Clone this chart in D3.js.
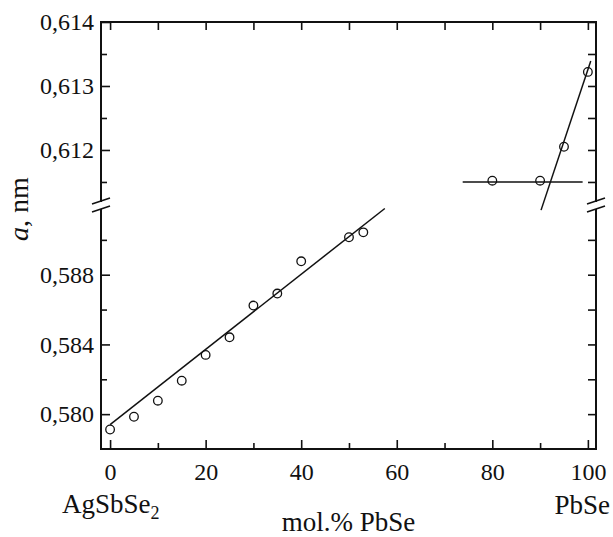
<!DOCTYPE html>
<html>
<head>
<meta charset="utf-8">
<script src="https://cdn.jsdelivr.net/npm/d3@7"></script>
<style>
	body { margin: 0; background: #fff; }
	text { font-family: "Liberation Serif", "Times New Roman", serif; fill: #111; }
</style>
</head>
<body>
<div class="chart"></div>
<script>

// measured points, mol.% PbSe vs lattice parameter a (nm)
const molLow = [0, 5, 10, 15, 20, 25, 30, 35, 40, 50, 53];
const aLow = [0.57912, 0.57985, 0.58077, 0.58192, 0.58340, 0.58441, 0.58623, 0.58692, 0.58877, 0.59015, 0.59043];
const molHigh = [80, 90, 95, 100];
const aHigh = [0.61152, 0.61152, 0.61205, 0.61322];

// fitted lines (end points)
const fitLow = [[0, 0.5794], [57.5, 0.5918]];
const fitFlat = [[73.8, 0.6115], [98.9, 0.6115]];
const fitSteep = [[90.2, 0.61106], [100.6, 0.61339]];

const xMajor = [0, 20, 40, 60, 80, 100];
const xMinor = [10, 30, 50, 70, 90];
const yLowMajor = [0.580, 0.584, 0.588];
const yLowMinor = [0.582, 0.586, 0.590];
const yHighMajor = [0.612, 0.613, 0.614];
const yHighMinor = [0.6115, 0.6125, 0.6135];

const W = 613, H = 537;
const margin = ({top: 22, right: 17, bottom: 88, left: 101});
const width = W - margin.left - margin.right;
const height = H - margin.top - margin.bottom;
const breakY = 183; // where the axis is cut, inside the plot

const svg = d3.select('.chart')
	.append('svg')
	.attr('width', W)
	.attr('height', H);

const g = svg.append('g')
	.attr('transform', 'translate(' + margin.left + ',' + margin.top + ')');

const x = d3.scaleLinear().domain([-1.9, 101.7]).range([0, width]);
const yLow = d3.scaleLinear().domain([0.578, 0.592]).range([height, breakY]);
const yHigh = d3.scaleLinear().domain([0.61114, 0.614]).range([breakY, 0]);

const comma = d3.formatLocale({decimal: ',', thousands: ' ', grouping: [3], currency: ['', '']});
const fmt = comma.format('.3f');

function styleAxis(sel) {
	sel.select('.domain').remove();
	sel.selectAll('line').attr('stroke', '#111').attr('stroke-width', 1.6);
	sel.selectAll('text').style('font-size', '24px').attr('fill', '#111');
}

// bottom axis, ticks pointing inwards
g.append('g').attr('transform', 'translate(0,' + height + ')')
	.call(d3.axisBottom(x).tickValues(xMajor).tickSize(-9).tickPadding(14).tickFormat(d3.format('d')))
	.call(styleAxis);
g.append('g').attr('transform', 'translate(0,' + height + ')')
	.call(d3.axisBottom(x).tickValues(xMinor).tickSize(-6).tickFormat(''))
	.call(styleAxis);
// top
g.append('g')
	.call(d3.axisTop(x).tickValues(xMajor.concat(xMinor)).tickSize(-8).tickFormat(''))
	.call(styleAxis);

// left axis, two pieces
[[yLow, yLowMajor, yLowMinor], [yHigh, yHighMajor, yHighMinor]].forEach(([y, major, minor]) => {
	g.append('g')
		.call(d3.axisLeft(y).tickValues(major).tickSize(-9).tickPadding(7).tickFormat(fmt))
		.call(styleAxis);
	g.append('g')
		.call(d3.axisLeft(y).tickValues(minor).tickSize(-6).tickFormat(''))
		.call(styleAxis);
	g.append('g').attr('transform', 'translate(' + width + ',0)')
		.call(d3.axisRight(y).tickValues(major.concat(minor)).tickSize(-8).tickFormat(''))
		.call(styleAxis);
});

// frame
g.append('rect')
	.attr('width', width)
	.attr('height', height)
	.attr('fill', 'none')
	.attr('stroke', '#111')
	.attr('stroke-width', 2);

const lineGenerator = d3.line();

g.append('path')
	.attr('d', lineGenerator(fitLow.map(d => [x(d[0]), yLow(d[1])])))
	.attr('stroke', '#111').attr('stroke-width', 1.5).attr('fill', 'none');
[fitFlat, fitSteep].forEach(f => {
	g.append('path')
		.attr('d', lineGenerator(f.map(d => [x(d[0]), yHigh(d[1])])))
		.attr('stroke', '#111').attr('stroke-width', 1.5).attr('fill', 'none');
});

// open circles
g.selectAll('circle.low')
	.data(molLow)
	.enter()
	.append('circle')
	.attr('class', 'low')
	.attr('cx', d => x(d))
	.attr('cy', (d, i) => yLow(aLow[i]))
	.attr('r', 4.3)
	.attr('fill', 'none')
	.attr('stroke', '#111')
	.attr('stroke-width', 1.3);

g.selectAll('circle.high')
	.data(molHigh)
	.enter()
	.append('circle')
	.attr('class', 'high')
	.attr('cx', d => x(d))
	.attr('cy', (d, i) => yHigh(aHigh[i]))
	.attr('r', 4.3)
	.attr('fill', 'none')
	.attr('stroke', '#111')
	.attr('stroke-width', 1.3);

// axis break marks on both sides
[0, width].forEach(bx => {
	g.append('rect')
		.attr('x', bx - 2).attr('y', breakY - 3)
		.attr('width', 4).attr('height', 7)
		.attr('fill', '#fff');
	[-4, 4].forEach(off => {
		g.append('line')
			.attr('x1', bx - 9).attr('y1', breakY + off + 3)
			.attr('x2', bx + 9).attr('y2', breakY + off - 3)
			.attr('stroke', '#111')
			.attr('stroke-width', 1.6);
	});
});

// titles
svg.append('text')
	.attr('transform', 'translate(28,' + (margin.top + 187) + ') rotate(-90)')
	.attr('text-anchor', 'middle')
	.style('font-size', '28px')
	.html('<tspan font-style="italic">a</tspan>, nm');

svg.append('text')
	.attr('x', 62).attr('y', 513)
	.style('font-size', '27px')
	.html('AgSbSe<tspan font-size="18px" dy="6">2</tspan>');

svg.append('text')
	.attr('x', 610).attr('y', 514)
	.attr('text-anchor', 'end')
	.style('font-size', '27px')
	.text('PbSe');

svg.append('text')
	.attr('x', margin.left + width / 2).attr('y', 531)
	.attr('text-anchor', 'middle')
	.style('font-size', '27px')
	.text('mol.% PbSe');

</script>
</body>
</html>
